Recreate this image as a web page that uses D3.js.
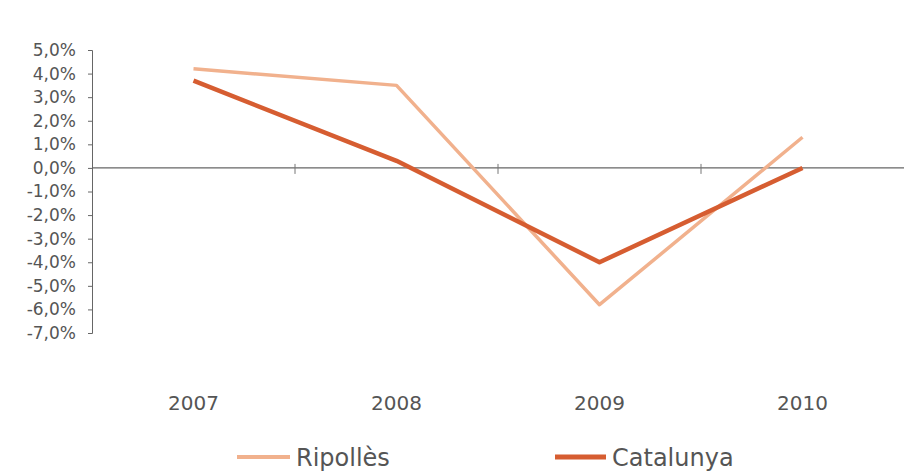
<!DOCTYPE html>
<html><head><meta charset="utf-8">
<script src="https://cdn.jsdelivr.net/npm/d3@7"></script>
<style>body{margin:0;background:#fff}text{font-family:"DejaVu Sans",sans-serif}</style>
</head><body><svg id="c" width="906" height="471"></svg>
<script>
const years = ["2007","2008","2009","2010"];
const ripolles = [4.2, 3.5, -5.8, 1.3];
const catalunya = [3.7, 0.3, -4.0, 0.0];
const yTicks = [5,4,3,2,1,0,-1,-2,-3,-4,-5,-6,-7];
const seriesNames = ["Ripollès","Catalunya"];
const colors = ["#f1b18d","#d65d31"];

const svg = d3.select("#c");
const x = d3.scaleBand().domain(years).range([92, 904]);
const y = d3.scaleLinear().domain([-7,5]).range([333, 50]);

// y axis
const ya = svg.append("g").attr("transform","translate(92,0)")
  .call(d3.axisLeft(y).tickValues(yTicks).tickSize(4).tickPadding(12)
    .tickFormat(d => d3.format(".1f")(Math.abs(d)).replace(".",",") + "%").tickFormat(d => (d<0?"-":"") + d3.format(".1f")(Math.abs(d)).replace(".",",") + "%"));
ya.select(".domain").attr("stroke","#666");
ya.selectAll(".tick line").attr("stroke","#666");
ya.selectAll("text").attr("fill","#555").attr("font-size",17).attr("font-family","DejaVu Sans");

// zero line
svg.append("line").attr("x1",92).attr("x2",904).attr("y1",y(0)).attr("y2",y(0)).attr("stroke","#666").attr("stroke-width",1.2);
// category boundary ticks
svg.selectAll(".bt").data(years.slice(1)).enter().append("line")
  .attr("x1",d=>x(d)).attr("x2",d=>x(d)).attr("y1",y(0)-4).attr("y2",y(0)+6)
  .attr("stroke","#777");
// x labels
svg.selectAll(".xl").data(years).enter().append("text")
  .attr("x",d=>x(d)+x.bandwidth()/2).attr("y",410).attr("text-anchor","middle")
  .attr("font-size",20).attr("fill","#555").text(d=>d);

const line = d3.line().x((d,i)=>x(years[i])+x.bandwidth()/2).y(d=>y(d));
svg.append("path").datum(ripolles).attr("d",line).attr("fill","none")
  .attr("stroke",colors[0]).attr("stroke-width",3.5).attr("stroke-linejoin","round");
svg.append("path").datum(catalunya).attr("d",line).attr("fill","none")
  .attr("stroke",colors[1]).attr("stroke-width",4.5).attr("stroke-linejoin","round");

// legend
const lg = [[237,53,seriesNames[0],colors[0],4],[555,51,seriesNames[1],colors[1],5]];
lg.forEach(([lx,lw,name,c,w])=>{
  svg.append("line").attr("x1",lx).attr("x2",lx+lw).attr("y1",457).attr("y2",457).attr("stroke",c).attr("stroke-width",w);
  svg.append("text").attr("x",lx+lw+6).attr("y",466).attr("font-size",24).attr("fill","#555").text(name);
});
</script></body></html>
